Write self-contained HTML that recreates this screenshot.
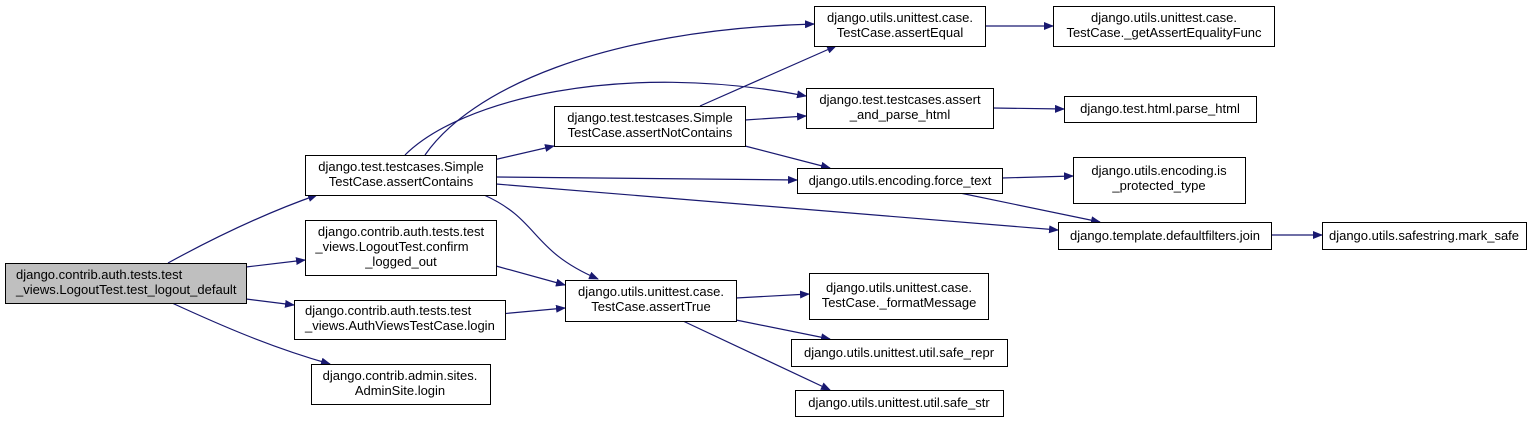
<!DOCTYPE html>
<html><head><meta charset="utf-8"><style>body{margin:0;background:#fff}svg{display:block}text{font-family:"Liberation Sans",Arial,sans-serif;font-size:13px;fill:#000;text-anchor:middle}</style></head><body>
<svg width="1540" height="422" viewBox="0 0 1540 422" xmlns="http://www.w3.org/2000/svg">
<defs><marker id="a" markerWidth="10" markerHeight="8" refX="9" refY="4" orient="auto" markerUnits="userSpaceOnUse"><path d="M0,0 L10,4 L0,8 z" fill="#191970"/></marker></defs>
<g fill="none" stroke="#191970" stroke-width="1.2" marker-end="url(#a)">
<path d="M168,263 C210,240 260,215 317,195"/>
<path d="M246,267 L305,260"/>
<path d="M246,299 L294,305"/>
<path d="M172,303 C220,325 270,347 330,364"/>
<path d="M425,155 C470,90 600,30 814,24"/>
<path d="M405,155 C460,100 620,60 806,96"/>
<path d="M472,165 L554,146"/>
<path d="M496,177 L797,180"/>
<path d="M496,184 L1058,230"/>
<path d="M484,195 C540,220 530,250 598,279"/>
<path d="M496,266 L565,285"/>
<path d="M500,314 L565,308"/>
<path d="M700,106 L836,46"/>
<path d="M745,120 L806,116"/>
<path d="M745,146 L830,168"/>
<path d="M985,26 L1053,26"/>
<path d="M993,108 L1064,109"/>
<path d="M1002,178 L1073,176"/>
<path d="M960,193 L1100,222"/>
<path d="M1271,235 L1322,235"/>
<path d="M736,298 L809,294"/>
<path d="M736,320 L830,339"/>
<path d="M683,321 L830,390"/>
</g>
<g stroke="#000" stroke-width="1" fill="#fff">
<rect x="5.5" y="263.5" width="241" height="40" fill="#bfbfbf"/>
<rect x="305.5" y="155.5" width="191" height="40"/>
<rect x="305.5" y="220.5" width="191" height="55"/>
<rect x="294.5" y="300.5" width="211" height="39"/>
<rect x="311.5" y="364.5" width="179" height="40"/>
<rect x="554.5" y="106.5" width="191" height="40"/>
<rect x="565.5" y="280.5" width="171" height="41"/>
<rect x="814.5" y="6.5" width="171" height="40"/>
<rect x="806.5" y="88.5" width="187" height="40"/>
<rect x="797.5" y="168.5" width="205" height="25"/>
<rect x="1053.5" y="6.5" width="221" height="40"/>
<rect x="1064.5" y="96.5" width="192" height="26"/>
<rect x="1073.5" y="157.5" width="172" height="46"/>
<rect x="1058.5" y="222.5" width="213" height="27"/>
<rect x="1322.5" y="222.5" width="204" height="27"/>
<rect x="809.5" y="273.5" width="179" height="46"/>
<rect x="791.5" y="339.5" width="216" height="27"/>
<rect x="795.5" y="390.5" width="208" height="26"/>
</g>
<text x="16" y="279" style="text-anchor:start">django.contrib.auth.tests.test</text>
<text x="16" y="294" style="text-anchor:start">_views.LogoutTest.test_logout_default</text>
<text x="401" y="171">django.test.testcases.Simple</text>
<text x="401" y="186">TestCase.assertContains</text>
<text x="401" y="236">django.contrib.auth.tests.test</text>
<text x="392" y="251">_views.LogoutTest.confirm</text>
<text x="401" y="266">_logged_out</text>
<text x="305" y="315" style="text-anchor:start">django.contrib.auth.tests.test</text>
<text x="305" y="330" style="text-anchor:start">_views.AuthViewsTestCase.login</text>
<text x="400" y="380">django.contrib.admin.sites.</text>
<text x="400" y="395">AdminSite.login</text>
<text x="650" y="122">django.test.testcases.Simple</text>
<text x="650" y="137">TestCase.assertNotContains</text>
<text x="651" y="296">django.utils.unittest.case.</text>
<text x="651" y="311">TestCase.assertTrue</text>
<text x="900" y="22">django.utils.unittest.case.</text>
<text x="900" y="37">TestCase.assertEqual</text>
<text x="900" y="104">django.test.testcases.assert</text>
<text x="900" y="119">_and_parse_html</text>
<text x="900" y="185">django.utils.encoding.force_text</text>
<text x="1164" y="22">django.utils.unittest.case.</text>
<text x="1164" y="37">TestCase._getAssertEqualityFunc</text>
<text x="1160" y="113">django.test.html.parse_html</text>
<text x="1159" y="175">django.utils.encoding.is</text>
<text x="1159" y="190">_protected_type</text>
<text x="1165" y="240">django.template.defaultfilters.join</text>
<text x="1424" y="240">django.utils.safestring.mark_safe</text>
<text x="899" y="292">django.utils.unittest.case.</text>
<text x="899" y="307">TestCase._formatMessage</text>
<text x="899" y="357">django.utils.unittest.util.safe_repr</text>
<text x="899" y="407">django.utils.unittest.util.safe_str</text>
</svg>
</body></html>
